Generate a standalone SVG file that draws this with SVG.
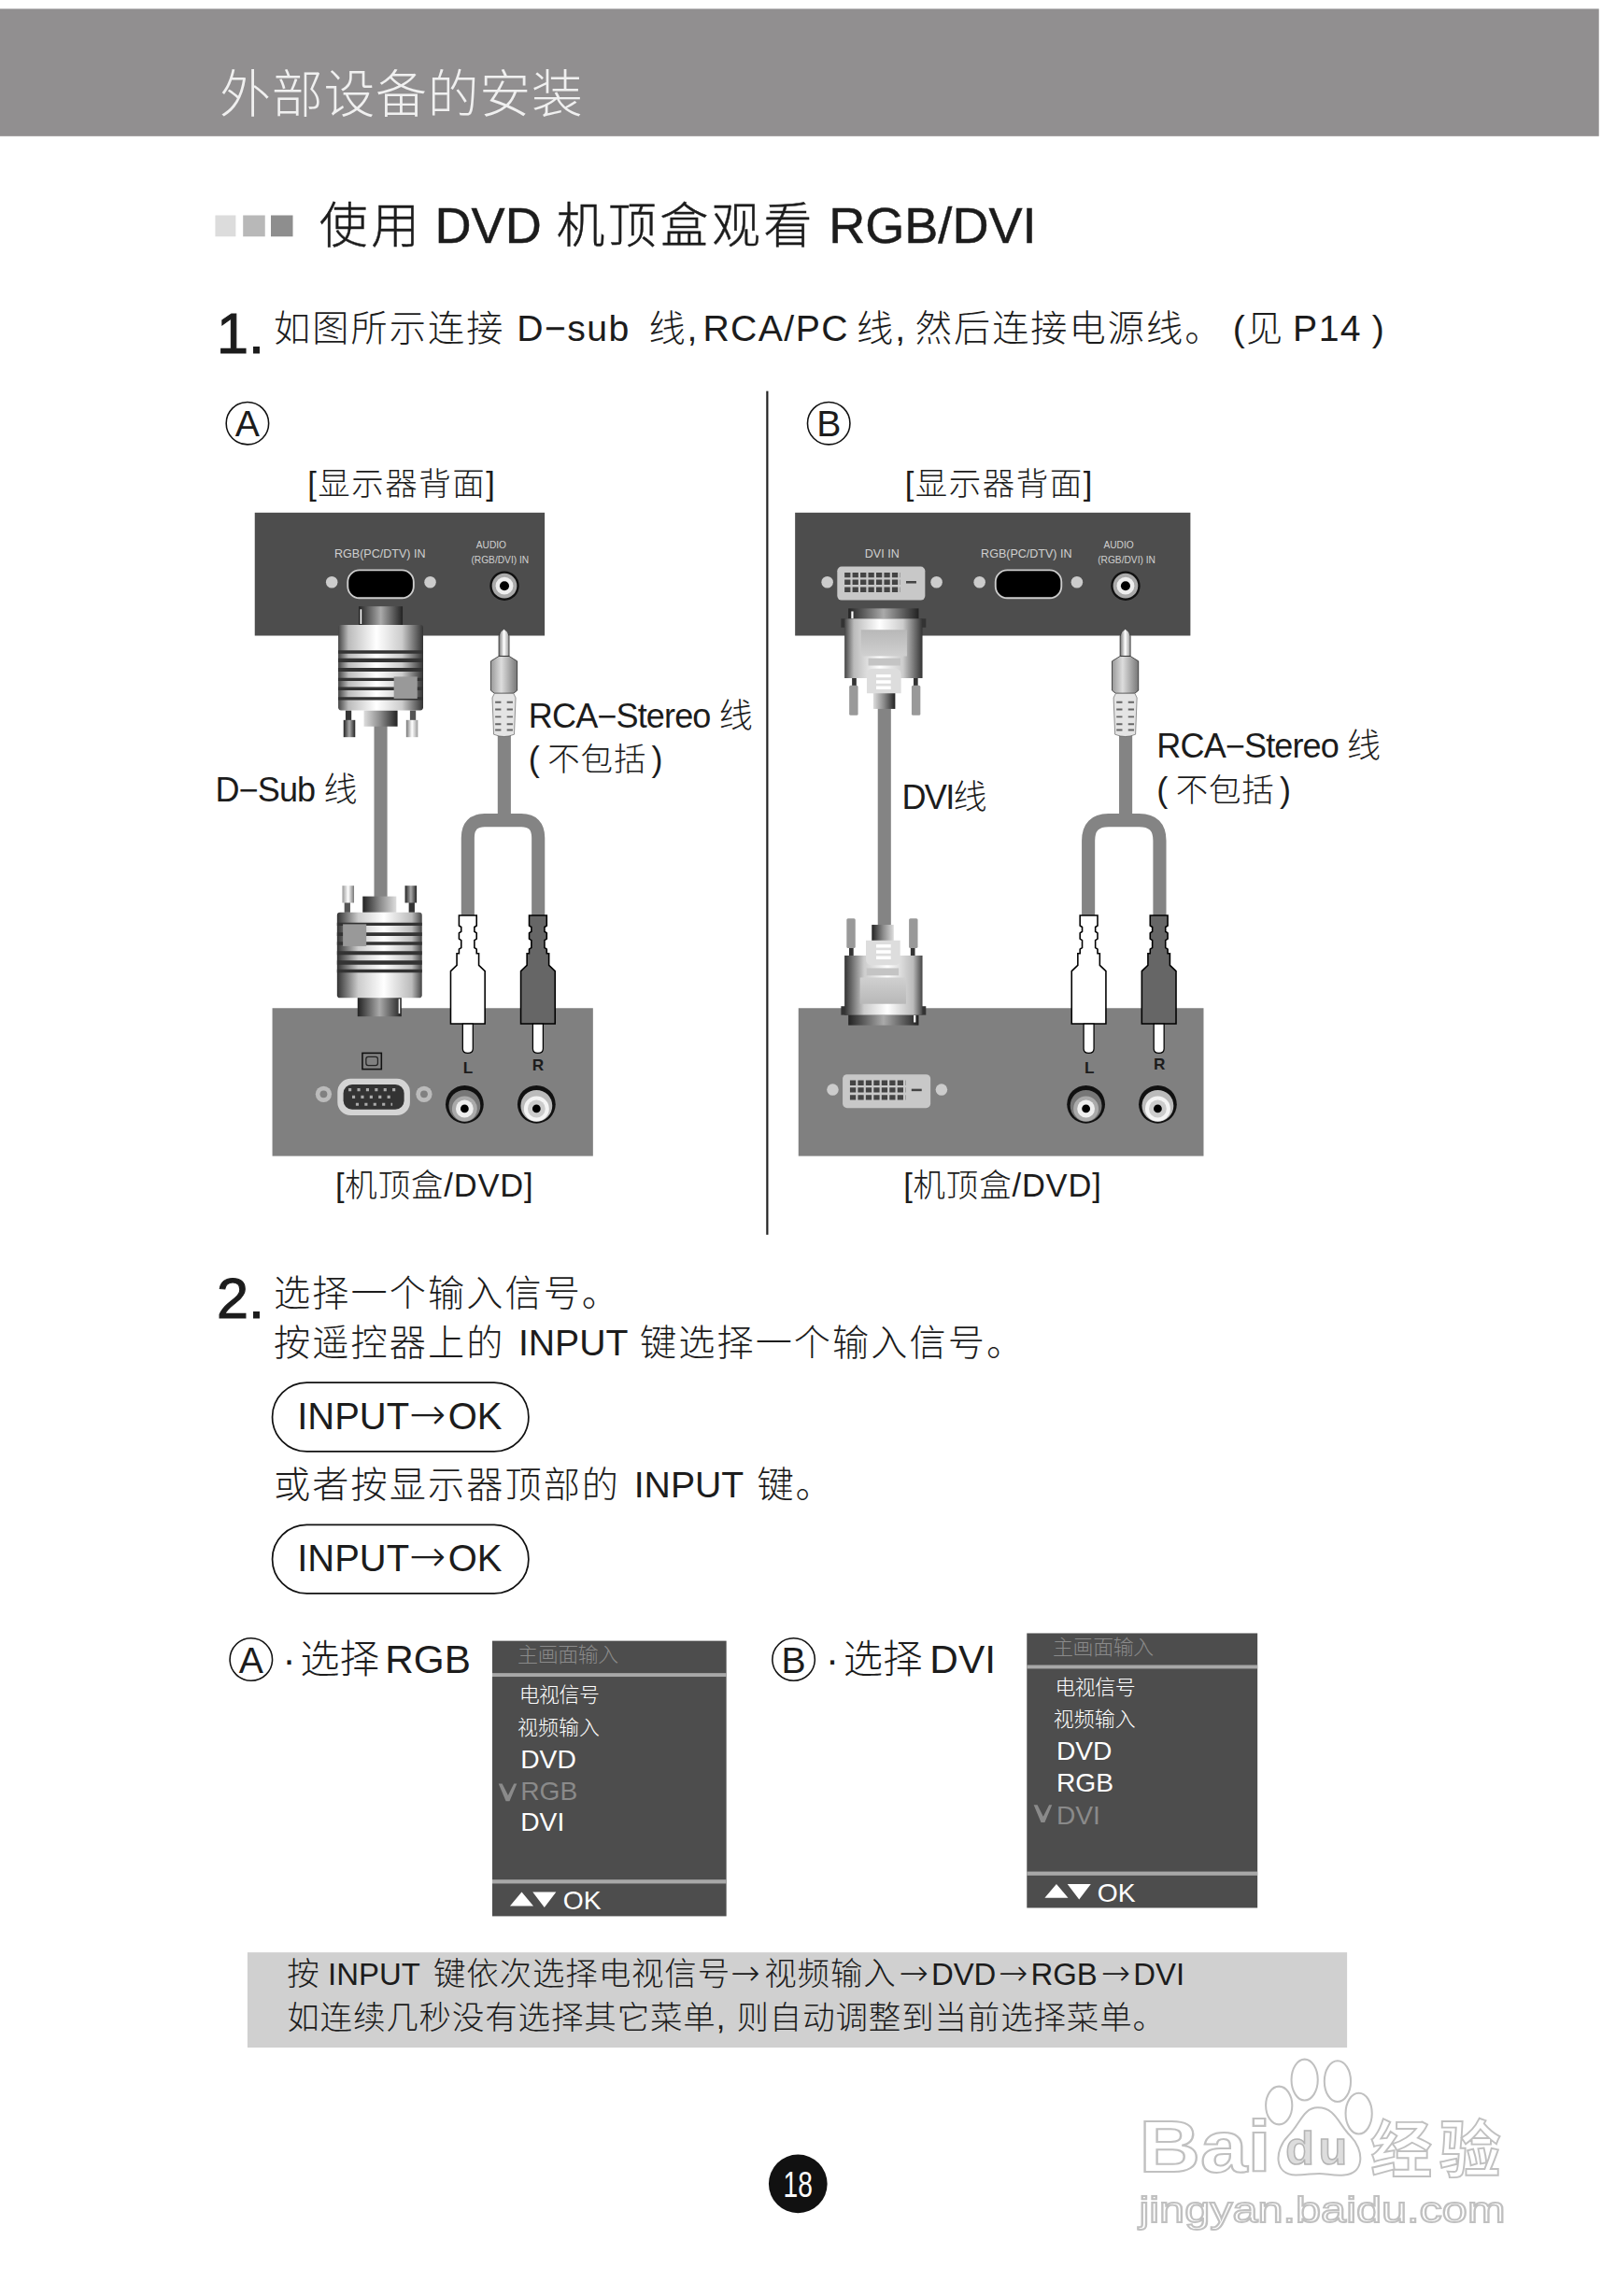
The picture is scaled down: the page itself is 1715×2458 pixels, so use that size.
<svg xmlns="http://www.w3.org/2000/svg" width="1715" height="2458" viewBox="0 0 1715 2458">
<style>
text{font-family:"Liberation Sans","Noto Sans CJK SC",sans-serif;fill:#1c1c1c;font-weight:300}
.body{font-size:25px}
.lab{font-size:23px}
.nt{font-size:21px}
.cap{font-size:22px}
.hd{font-size:34.5px;stroke:#1c1c1c;stroke-width:.3}
.hz{font-size:33px;letter-spacing:2.4px}
.num{font-size:39px;stroke:#1c1c1c;stroke-width:.7}
.z1{letter-spacing:1.3px}
.z2{font-size:22px;letter-spacing:.55px}
.l1{letter-spacing:.9px}
.ar{font-family:"DejaVu Sans",sans-serif}
.pt{font-size:25.500px}
.pa{font-size:30px}
.na{font-size:24px}
.pill{fill:none;stroke:#111;stroke-width:1.1}
.ring{fill:none;stroke:#111;stroke-width:1}
.cn{font-size:14px;fill:#fff}
.en{font-size:18px;fill:#fff}
.pnl{fill:#4d4d4d}
.box{fill:#808080}
.tiny{font-size:8px;fill:#d0d0d0}
.tiny2{font-size:6.5px;fill:#d0d0d0}
.cable{fill:none;stroke:#848484}
.wm{fill:#fff;stroke:#c0c0c0;stroke-width:1.3}
.sep{fill:#a8a8a8}
</style>
<defs>
<linearGradient id="gBody" x1="0" x2="1" y1="0" y2="0"><stop offset="0" stop-color="#444"/><stop offset=".12" stop-color="#bbb"/><stop offset=".45" stop-color="#fff"/><stop offset=".75" stop-color="#ccc"/><stop offset="1" stop-color="#333"/></linearGradient>
<linearGradient id="gNeck" x1="0" x2="1" y1="0" y2="0"><stop offset="0" stop-color="#222"/><stop offset=".5" stop-color="#aaa"/><stop offset="1" stop-color="#222"/></linearGradient>
<linearGradient id="gStub" x1="0" x2="1" y1="0" y2="0"><stop offset="0" stop-color="#ddd"/><stop offset=".5" stop-color="#888"/><stop offset="1" stop-color="#222"/></linearGradient>
<linearGradient id="gTip" x1="0" x2="1" y1="0" y2="0"><stop offset="0" stop-color="#777"/><stop offset=".5" stop-color="#fff"/><stop offset="1" stop-color="#999"/></linearGradient>
<linearGradient id="gHex" x1="0" x2="1" y1="0" y2="0"><stop offset="0" stop-color="#999"/><stop offset=".4" stop-color="#ddd"/><stop offset="1" stop-color="#777"/></linearGradient>
<linearGradient id="gIn" x1="0" x2="0" y1="0" y2="1"><stop offset="0" stop-color="#b8b8b8"/><stop offset="1" stop-color="#d0d0d0"/></linearGradient>
<filter id="soft"><feGaussianBlur stdDeviation=".5"/></filter>
<g id="vgaPlug">
<rect x="-15" y="0" width="30" height="13" fill="url(#gNeck)"/>
<rect x="-14" y="2" width="1" height="10" fill="#fff"/>
<rect x="-24" y="71" width="4" height="8" fill="#333"/><rect x="20" y="71" width="4" height="8" fill="#555"/>
<rect x="-25.4" y="77.6" width="8" height="11.7" fill="url(#gNeck)"/><rect x="17.4" y="77.6" width="8" height="11.7" fill="url(#gTip)"/>
<rect x="-11.5" y="71" width="23" height="11" fill="url(#gStub)"/>
<rect x="-29" y="12.7" width="58" height="58.3" rx="2" fill="url(#gBody)"/>
<path d="M-29 30h58v2.2h-58zM-29 35.4h58v2.8h-58zM-29 42h58v2.6h-58zM-29 48.8h58v2.2h-58zM-29 55h58v2.3h-58zM-29 62h58v2h-58z" fill="#333"/>
<rect x="9" y="48" width="16" height="15" fill="#999"/>
</g>
<g id="dviPlug">
<rect x="-24" y="0" width="48" height="9" fill="url(#gNeck)"/>
<rect x="-22" y="2" width="1.4" height="5" fill="#fff"/>
<rect x="-21.5" y="47" width="3" height="6" fill="#333"/><rect x="20.5" y="47" width="3" height="6" fill="#333"/>
<rect x="-23.4" y="52.6" width="6" height="20.4" rx="1" fill="#999"/><rect x="19.2" y="52.6" width="6" height="20.4" rx="1" fill="#999"/>
<rect x="-29" y="7" width="58" height="6" fill="#333"/>
<rect x="-26.6" y="7" width="53.2" height="40.6" fill="url(#gBody)"/>
<rect x="-15.4" y="14.6" width="31.4" height="18" fill="url(#gIn)"/>
<rect x="-10.4" y="34" width="22" height="5" fill="#c4c4c4"/>
<rect x="-7" y="56" width="15" height="12.6" fill="url(#gStub)"/>
<path d="M-11.4 45Q-11.4 41-7 41H7.5Q12 41 12 45V58H-11.4Z" fill="#ddd"/>
<path d="M-5 45h10v2.2h-10zM-5 49h10v2.2h-10zM-5 53h10v2.2h-10z" fill="#fff"/>
</g>
<g id="miniJack">
<path d="M-3.5 18.6V5Q-3.5 2 0 0Q3.5 2 3.5 5V18.6Z" fill="url(#gTip)" stroke="#222" stroke-width=".5"/>
<path d="M-3.5 18.6H3.5L9 22V42L6.5 44H-6.5L-9 42V22Z" fill="url(#gHex)" stroke="#222" stroke-width=".5"/>
<path d="M-6.5 44H6.5L8 47L7 72Q0 75-7 72L-8 47Z" fill="#e4e4e4" stroke="#555" stroke-width=".4"/>
<path d="M-6 50H-2M2 50H6M-6 55H-2M2 55H6M-6 60H-2M2 60H6M-6 65H-2M2 65H6M-6 69H-2M2 69H6" stroke="#666" stroke-width="1.2" fill="none"/>
</g>
<g id="rcaPlug">
<path d="M-6 0H6V7L4.5 8V11L6 12V16L4.5 17V22L6 23V26H7.5V34L11.7 38V74H-11.7V38L-7.5 34V26H-6V23L-4.5 22V17L-6 16V12L-4.5 11V8L-6 7Z" stroke="#000" stroke-width="1"/>
<path d="M-3.5 74V91Q-3.5 94 0 94Q3.5 94 3.5 91V74Z" fill="#fff" stroke="#000" stroke-width=".8"/>
</g>
<g id="jackL"><circle r="13" fill="#111"/><circle cy="1" r="10.8" fill="#777"/><circle cy="3" r="8.6" fill="#aaa"/><circle cy="3" r="6" fill="#eee"/><circle cy="3" r="2.8" fill="#000"/></g>
<g id="jackR"><circle r="13" fill="#111"/><circle cy="1" r="10.8" fill="#bbb"/><circle cy="3" r="8.6" fill="#f4f4f4"/><circle cy="3" r="6" fill="#ccc"/><circle cy="3" r="2.8" fill="#000"/></g>
<g id="jackTop"><circle r="10" fill="#111"/><circle r="8.5" fill="#aaa"/><circle r="6" fill="#eee"/><circle r="3.2" fill="#000"/></g>
<g id="dviPort">
<rect x="-30" y="-11.5" width="60" height="23" rx="3" fill="#c8c8c8"/>
<path d="M-25-5.7H13M-25-.8H13M-25 4.3H13" stroke="#444" stroke-width="3.4" stroke-dasharray="4 1.4" fill="none"/>
<path d="M17-.8H24" stroke="#444" stroke-width="1.6"/>
</g>
<g id="vgaPort"><rect x="-22.5" y="-9.5" width="45" height="19" rx="8" fill="#000" stroke="#ccc" stroke-width="1.2"/></g>
<path id="chk" d="M0 0L5 12H7.5L12.5 0H10.5L6.5 8L2.5 0Z"/>
<path id="tris" d="M0 9.5L8 0L16 9.5ZM15.5 0H31.5L23.5 10.5Z" fill="#fff"/>
</defs>
<rect width="1715" height="2458" fill="#fff"/>
<g transform="scale(1.5675 1.568)">
<g id="header"><rect x="0" y="6" width="1092" height="87" fill="#918f90"/>
<text x="150" y="76.500" font-size="35" textLength="248" style="fill:#f0f0f0">外部设备的安装</text></g>
<g id="title">
<rect x="147" y="147" width="14" height="14.500" fill="#dcdcdc"/><rect x="166" y="147" width="15" height="14.500" fill="#b8b8b8"/><rect x="185" y="147" width="15" height="14.500" fill="#8e8e8e"/>
<text class="hd" y="166"><tspan class="hz" x="218">使用</tspan><tspan x="297">DVD</tspan><tspan class="hz" x="380">机顶盒观看</tspan><tspan x="566">RGB/DVI</tspan></text></g>
<g id="step1"><text class="num" x="148" y="241">1.</text>
<text class="body" y="233"><tspan class="z1" x="187">如图所示连接</tspan><tspan class="l1" x="353">D−sub</tspan><tspan class="z1" x="443">线,</tspan><tspan class="l1" x="480">RCA/PC</tspan><tspan class="z1" x="585">线,</tspan><tspan class="z1" x="625">然后连接电源线。</tspan><tspan x="842">(</tspan><tspan x="851">见</tspan><tspan class="l1" x="883">P14</tspan><tspan x="937">)</tspan></text></g>
<rect id="divider" x="523.300" y="267" width="1.400" height="576" fill="#222"/>

<g id="marker-a"><circle class="ring" cx="169" cy="289" r="14.500"/><text x="169" y="298" font-size="25" text-anchor="middle">A</text></g>
<g id="marker-b"><circle class="ring" cx="566" cy="289" r="14.500"/><text x="566" y="298" font-size="25" text-anchor="middle">B</text></g>
<text class="cap" x="210" y="338" textLength="128">[显示器背面]</text>
<text class="cap" x="618" y="338" textLength="128">[显示器背面]</text>

<g id="monitor-a"><rect class="pnl" x="174" y="350" width="198" height="84"/>
<text class="tiny" x="259.500" y="381" text-anchor="middle">RGB(PC/DTV) IN</text>
<text class="tiny2" x="335.500" y="374.500" text-anchor="middle">AUDIO</text><text class="tiny2" x="341.500" y="384.500" text-anchor="middle">(RGB/DVI) IN</text>
<use href="#vgaPort" x="260" y="398.800"/><circle cx="226.600" cy="397.500" r="4" fill="#ccc"/><circle cx="293.800" cy="397.500" r="4" fill="#ccc"/>
<use href="#jackTop" x="344.500" y="400"/></g>

<g id="monitor-b"><rect class="pnl" x="543" y="350" width="270" height="84"/>
<text class="tiny" x="602.400" y="381" text-anchor="middle">DVI IN</text>
<text class="tiny" x="701" y="381" text-anchor="middle">RGB(PC/DTV) IN</text>
<text class="tiny2" x="764" y="374.500" text-anchor="middle">AUDIO</text><text class="tiny2" x="769.400" y="384.500" text-anchor="middle">(RGB/DVI) IN</text>
<use href="#dviPort" x="601.800" y="398.300"/><circle cx="565" cy="397.500" r="4" fill="#ccc"/><circle cx="639.600" cy="397.500" r="4" fill="#ccc"/>
<use href="#vgaPort" x="702.400" y="398.800"/><circle cx="669" cy="397.500" r="4" fill="#ccc"/><circle cx="735.500" cy="397.500" r="4" fill="#ccc"/>
<use href="#jackTop" x="768.700" y="400"/></g>

<g id="settop-a"><rect class="box" x="186" y="688.300" width="219" height="101"/>
<rect x="247.500" y="719" width="13" height="11" fill="none" stroke="#111" stroke-width="1"/><rect x="250" y="721.500" width="8" height="6" rx="1.500" fill="none" stroke="#222" stroke-width=".8"/>
<circle cx="221" cy="747" r="5.500" fill="#bbb"/><circle cx="221" cy="747" r="2.500" fill="#808080"/><circle cx="289.600" cy="747" r="5.500" fill="#bbb"/><circle cx="289.600" cy="747" r="2.500" fill="#808080"/>
<rect x="230.500" y="736.500" width="49.500" height="25" rx="9" fill="#d4d4d4"/><rect x="234.500" y="740.500" width="41.500" height="17" rx="6" fill="#333"/>
<path d="M238 744H273M240.500 749H270.500M243 754H268" stroke="#aaa" stroke-width="2" stroke-dasharray="2 4" fill="none"/>
<text x="319.700" y="733" font-size="11" style="font-weight:bold" text-anchor="middle">L</text><text x="367.400" y="731" font-size="11" style="font-weight:bold" text-anchor="middle">R</text>
<use href="#jackL" x="317.300" y="754"/><use href="#jackR" x="366.400" y="754"/></g>

<g id="settop-b"><rect class="box" x="545.300" y="688.300" width="276.700" height="101"/>
<use href="#dviPort" x="605.500" y="745"/><circle cx="568.700" cy="744" r="4" fill="#ccc"/><circle cx="643" cy="744" r="4" fill="#ccc"/>
<text x="744" y="733" font-size="11" style="font-weight:bold" text-anchor="middle">L</text><text x="791.800" y="730.500" font-size="11" style="font-weight:bold" text-anchor="middle">R</text>
<use href="#jackL" x="741.700" y="754"/><use href="#jackR" x="790.700" y="754"/></g>

<g id="connectors">
<path class="cable" stroke-width="9" d="M260 490V620"/>
<path class="cable" stroke-width="9" d="M344.400 500V560M319.500 630V572Q319.500 560 331 560H356Q367.600 560 367.600 572V630"/>
<path class="cable" stroke-width="9" d="M604 480V636"/>
<path class="cable" stroke-width="9" d="M768.800 500V560M743.300 630V574Q743.300 560 757 560H778Q792 560 792 574V630"/>
</g>

<g id="plug-vga-top"><use href="#vgaPlug" transform="translate(260 414)"/></g>
<g id="plug-vga-bottom"><use href="#vgaPlug" transform="translate(259.200 694) rotate(180)"/></g>
<g id="plug-dvi-top"><use href="#dviPlug" transform="translate(603.400 415.400)"/></g>
<g id="plug-dvi-bottom"><use href="#dviPlug" transform="translate(603.400 700) rotate(180)"/></g>
<g id="jack-a"><use href="#miniJack" x="344.200" y="429.400"/></g>
<g id="jack-b"><use href="#miniJack" x="768.500" y="429.400"/></g>
<g id="rca-a-l"><use href="#rcaPlug" x="319.500" y="625" fill="#fff"/></g>
<g id="rca-a-r"><use href="#rcaPlug" x="367.400" y="625" fill="#666"/></g>
<g id="rca-b-l"><use href="#rcaPlug" x="743.600" y="625" fill="#fff"/></g>
<g id="rca-b-r"><use href="#rcaPlug" x="791.500" y="625" fill="#666"/></g>

<text class="lab" x="361" y="497" textLength="153">RCA−Stereo 线</text>
<text class="lab" y="526"><tspan x="361">(</tspan><tspan class="z2" x="374">不包括</tspan><tspan x="445">)</tspan></text>
<text class="lab" x="147" y="547" textLength="97">D−Sub 线</text>
<text class="lab" x="790" y="517" textLength="153">RCA−Stereo 线</text>
<text class="lab" y="547"><tspan x="790">(</tspan><tspan class="z2" x="803">不包括</tspan><tspan x="874">)</tspan></text>
<text class="lab" x="616" y="552" textLength="58">DVI线</text>
<text class="cap" x="229" y="817" textLength="135">[机顶盒/DVD]</text>
<text class="cap" x="617" y="817" textLength="135">[机顶盒/DVD]</text>

<g id="step2"><text class="num" x="148" y="900">2.</text>
<text class="body z1" x="187" y="891.500">选择一个输入信号。</text>
<text class="body" y="925.500"><tspan class="z1" x="187">按遥控器上的</tspan><tspan x="354">INPUT</tspan><tspan class="z1" x="437">键选择一个输入信号。</tspan></text></g>
<g id="pill-1"><rect class="pill" x="186" y="944" width="175" height="47" rx="23.500"/><text class="pt" y="976"><tspan x="203">INPUT</tspan><tspan class="ar pa" x="279.500">→</tspan><tspan x="306">OK</tspan></text></g>
<text class="body" y="1022.500"><tspan class="z1" x="187">或者按显示器顶部的</tspan><tspan x="433">INPUT</tspan><tspan class="z1" x="517">键。</tspan></text>
<g id="pill-2"><rect class="pill" x="186" y="1041" width="175" height="47" rx="23.500"/><text class="pt" y="1073"><tspan x="203">INPUT</tspan><tspan class="ar pa" x="279.500">→</tspan><tspan x="306">OK</tspan></text></g>

<g id="select-a"><circle class="ring" cx="171.500" cy="1133" r="14.500"/><text x="171.500" y="1142" font-size="25" text-anchor="middle">A</text>
<text y="1142" font-size="27"><tspan x="193">·</tspan><tspan x="205">选择</tspan><tspan x="263">RGB</tspan></text></g>
<g id="select-b"><circle class="ring" cx="542" cy="1133" r="14.500"/><text x="542" y="1142" font-size="25" text-anchor="middle">B</text>
<text y="1142" font-size="27"><tspan x="564">·</tspan><tspan x="576">选择</tspan><tspan x="635">DVI</tspan></text></g>

<g id="menu-a"><rect class="pnl" x="336.200" y="1120.300" width="159.900" height="188"/>
<rect class="sep" x="336.200" y="1142.300" width="159.900" height="2.500"/>
<rect class="sep" x="336.200" y="1283.300" width="159.900" height="2.700"/>
<text class="cn" x="353.500" y="1134.300" textLength="69" style="fill:#8a8a8a">主画面输入</text>
<text class="cn" x="354.500" y="1162.300" textLength="55">电视信号</text>
<text class="cn" x="353.500" y="1184.300" textLength="56">视频输入</text>
<text class="en" x="355.500" y="1207.300">DVD</text>
<text class="en" x="355.500" y="1228.800" style="fill:#8a8a8a">RGB</text>
<use href="#chk" x="340.500" y="1217.800" fill="#8a8a8a"/>
<text class="en" x="355.500" y="1250.300">DVI</text>
<use href="#tris" x="348.300" y="1291.800"/>
<text class="en" x="384.500" y="1303.800">OK</text></g>

<g id="menu-b"><rect class="pnl" x="701.300" y="1115.100" width="157.500" height="187.500"/>
<rect class="sep" x="701.300" y="1136.800" width="157.500" height="2.500"/>
<rect class="sep" x="701.300" y="1277.800" width="157.500" height="2.700"/>
<text class="cn" x="719" y="1129.300" textLength="69" style="fill:#8a8a8a">主画面输入</text>
<text class="cn" x="720.500" y="1156.800" textLength="55">电视信号</text>
<text class="cn" x="719.500" y="1178.800" textLength="56">视频输入</text>
<text class="en" x="721.500" y="1201.800">DVD</text>
<text class="en" x="721.500" y="1223.300">RGB</text>
<text class="en" x="721.500" y="1245.300" style="fill:#8a8a8a">DVI</text>
<use href="#chk" x="706" y="1232.300" fill="#8a8a8a"/>
<use href="#tris" x="713.500" y="1286.300"/>
<text class="en" x="749.500" y="1298.300">OK</text></g>

<g id="note"><rect x="169" y="1333" width="751" height="65" fill="#d0d0d0"/>
<text class="nt" y="1355.500"><tspan class="z2" x="196">按</tspan><tspan x="224">INPUT</tspan><tspan class="z2" x="296">键依次选择电视信号</tspan><tspan class="ar na" x="499">→</tspan><tspan class="z2" x="522">视频输入</tspan><tspan class="ar na" x="614">→</tspan><tspan x="636">DVD</tspan><tspan class="ar na" x="682">→</tspan><tspan x="704">RGB</tspan><tspan class="ar na" x="752">→</tspan><tspan x="774">DVI</tspan></text>
<text class="nt" y="1385.500"><tspan class="z2" x="196">如连续几秒没有选择其它菜单,</tspan><tspan class="z2" x="503">则自动调整到当前选择菜单。</tspan></text></g>

<g id="page"><circle cx="545" cy="1491" r="20" fill="#111"/><text x="545" y="1500" font-size="25" text-anchor="middle" textLength="20" lengthAdjust="spacingAndGlyphs" style="fill:#fff">18</text></g>

<g id="watermark" filter="url(#soft)">
<ellipse class="wm" cx="891" cy="1420" rx="9" ry="14"/><ellipse class="wm" cx="913.500" cy="1421" rx="9" ry="14"/><ellipse class="wm" cx="873.500" cy="1437.500" rx="9" ry="13"/><ellipse class="wm" cx="928" cy="1443" rx="9" ry="14"/>
<path class="wm" d="M900 1439C890 1439 888 1450 880 1458C870 1468 870 1485 885 1485C892 1485 896 1484 901 1484C906 1484 912 1486 918 1485C932 1484 932 1468 922 1458C914 1450 912 1439 900 1439Z"/>
<text class="wm" x="778" y="1483" font-size="50" textLength="90" lengthAdjust="spacingAndGlyphs" style="fill:#fff;stroke:#c0c0c0;font-weight:bold">Bai</text>
<text x="878" y="1478" font-size="32" textLength="42" style="fill:#ddd;stroke:#b4b4b4;stroke-width:1;font-weight:bold">du</text>
<text x="936" y="1483" font-size="42" textLength="89" style="fill:#fff;stroke:#c0c0c0;stroke-width:1.200;font-weight:bold">经验</text>
<text x="778" y="1517" font-size="25" textLength="250" lengthAdjust="spacingAndGlyphs" style="fill:#fff;stroke:#c0c0c0;stroke-width:1.200">jingyan.baidu.com</text>
</g>
</g>
</svg>
